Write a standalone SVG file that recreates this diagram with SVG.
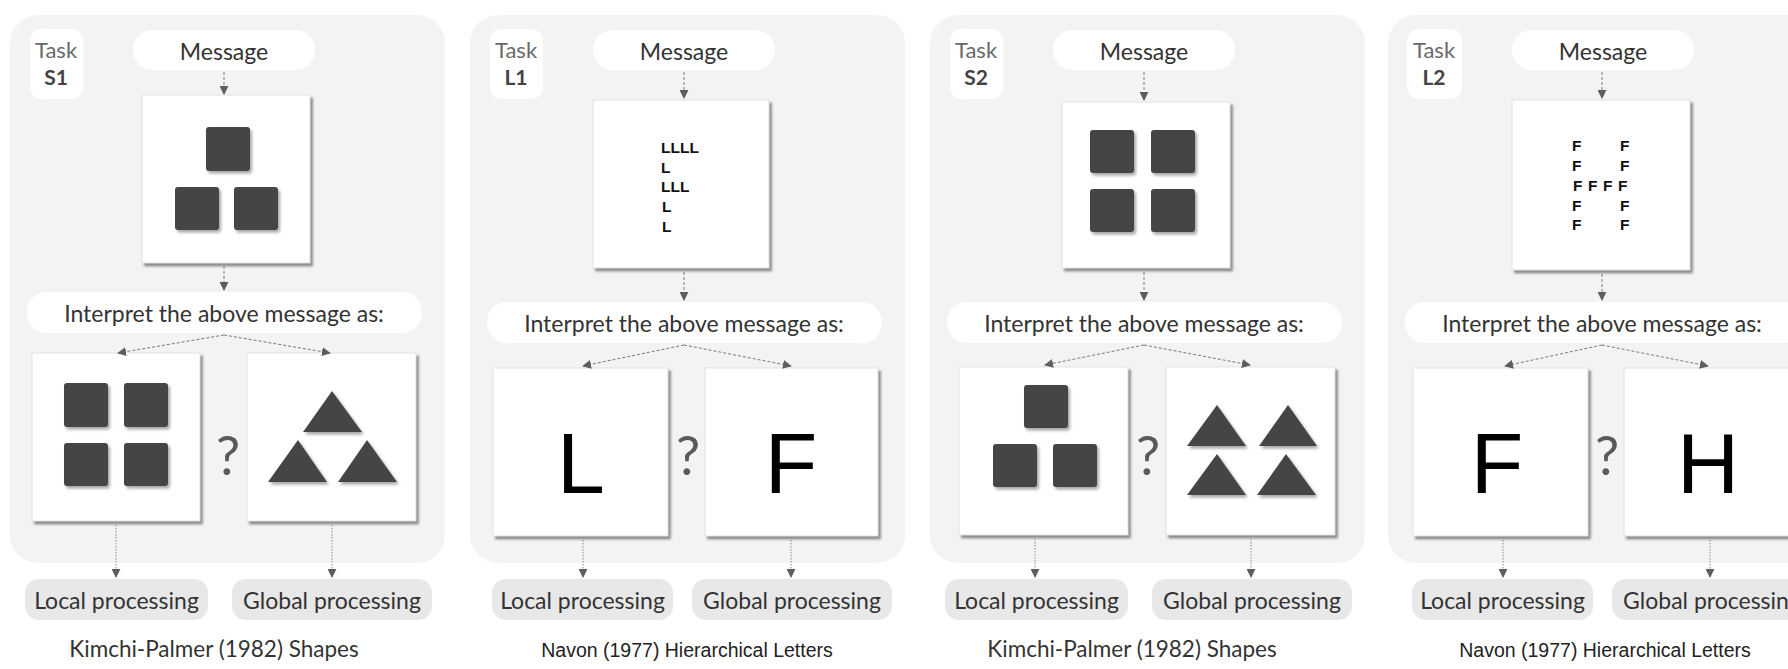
<svg xmlns="http://www.w3.org/2000/svg" width="1788" height="669" viewBox="0 0 1788 669">
  <defs>
    <style>
      .panel { fill: #f3f3f3; }
      .pill { fill: #ffffff; }
      .tag { fill: #ffffff; }
      .outpill { fill: #e8e8e8; }
      .card { fill: #ffffff; stroke: #dcdcdc; stroke-width: 0.8; filter: url(#cardShadow); }
      .shape { fill: #454545; filter: url(#shapeShadow); }
      .sans { font-family: Lato, "Open Sans", "Liberation Sans", sans-serif; fill: #333333; }
      .helv { font-family: "Liberation Sans", Arial, sans-serif; fill: #222222; }
      .task { font-size: 22px; fill: #6a6a6a; text-anchor: middle; }
      .taskid { font-size: 21px; font-weight: bold; fill: #444444; text-anchor: middle; }
      .lbl { font-size: 23px; text-anchor: middle; }
      .cap { font-size: 22.5px; text-anchor: middle; }
      .capH { font-size: 19.5px; text-anchor: middle; }
      .q { font-family: Lato, "Open Sans", sans-serif; font-size: 54px; fill: #5a5a5a; text-anchor: middle; }
      .big { font-family: "Liberation Sans", Arial, sans-serif; font-size: 86px; fill: #000000; text-anchor: middle; }
      .small { font-family: "Liberation Sans", Arial, sans-serif; font-size: 15.5px; font-weight: bold; fill: #111111; }
      .dash { fill: none; stroke: #7a7a7a; stroke-width: 1; stroke-dasharray: 3 2; marker-end: url(#head); }
      .dot { fill: none; stroke: #8a8a8a; stroke-width: 1; stroke-dasharray: 1.5 1.5; marker-end: url(#head); }
    </style>
    <filter id="cardShadow" x="-10%" y="-10%" width="130%" height="130%">
      <feDropShadow dx="2.5" dy="3" stdDeviation="0.8" flood-color="#7a7a7a" flood-opacity="0.85"/>
    </filter>
    <filter id="shapeShadow" x="-20%" y="-20%" width="150%" height="150%">
      <feDropShadow dx="2" dy="2.5" stdDeviation="1.5" flood-color="#000000" flood-opacity="0.35"/>
    </filter>
    <marker id="head" viewBox="0 0 10 10" refX="9" refY="5" markerWidth="9" markerHeight="9" markerUnits="userSpaceOnUse" orient="auto">
      <path d="M0,0 L10,5 L0,10 Z" fill="#5e5e5e"/>
    </marker>
  </defs>

  <!-- Task S1: Kimchi-Palmer shapes, squares forming a triangle -->
  <g id="task-s1">
    <rect class="panel" x="10" y="15" width="435" height="548" rx="28"/>
    <g id="s1-label">
      <rect class="tag" x="30" y="29" width="53" height="70" rx="12"/>
      <text class="sans task" x="56" y="58">Task</text>
      <text class="sans taskid" x="56" y="85">S1</text>
    </g>
    <g id="s1-message">
      <rect class="pill" x="133" y="30" width="182" height="40" rx="20"/>
      <text class="sans lbl" x="224" y="60">Message</text>
    </g>
    <g id="s1-stimulus">
      <rect class="card" x="142" y="95" width="168" height="168"/>
      <rect class="shape" x="206" y="127" width="44" height="44" rx="3"/>
      <rect class="shape" x="175" y="187" width="44" height="43" rx="3"/>
      <rect class="shape" x="234" y="187" width="44" height="43" rx="3"/>
    </g>
    <g id="s1-question">
      <rect class="pill" x="27" y="292" width="395" height="41" rx="20"/>
      <text class="sans lbl" x="224" y="322">Interpret the above message as:</text>
    </g>
    <g id="s1-local">
      <rect class="card" x="32" y="353" width="168" height="168"/>
      <rect class="shape" x="64" y="383" width="44" height="44" rx="3"/>
      <rect class="shape" x="124" y="383" width="44" height="44" rx="3"/>
      <rect class="shape" x="64" y="443" width="44" height="43" rx="3"/>
      <rect class="shape" x="124" y="443" width="44" height="43" rx="3"/>
    </g>
    <text class="q" x="228" y="475">?</text>
    <g id="s1-global">
      <rect class="card" x="247" y="353" width="169" height="168"/>
      <polygon class="shape" points="332,391 362,432 303,432"/>
      <polygon class="shape" points="298,440 327,482 268,482"/>
      <polygon class="shape" points="367,440 397,482 338,482"/>
    </g>
    <g id="s1-local-out">
      <rect class="outpill" x="25" y="579" width="183" height="41" rx="14"/>
      <text class="sans lbl" x="116.5" y="609">Local processing</text>
    </g>
    <g id="s1-global-out">
      <rect class="outpill" x="232" y="579" width="200" height="41" rx="14"/>
      <text class="sans lbl" x="332" y="609">Global processing</text>
    </g>
    <text class="sans cap" x="214" y="657">Kimchi-Palmer (1982) Shapes</text>
  </g>

  <!-- Task L1: Navon letters, an F made of L -->
  <g id="task-l1">
    <rect class="panel" x="470" y="15" width="435" height="548" rx="28"/>
    <g id="l1-label">
      <rect class="tag" x="490" y="29" width="53" height="70" rx="12"/>
      <text class="sans task" x="516" y="58">Task</text>
      <text class="sans taskid" x="516" y="85">L1</text>
    </g>
    <g id="l1-message">
      <rect class="pill" x="593" y="30" width="182" height="40" rx="20"/>
      <text class="sans lbl" x="684" y="60">Message</text>
    </g>
    <g id="l1-stimulus">
      <rect class="card" x="593" y="100" width="176" height="168"/>
      <text class="small" x="661" y="153">LLLL</text>
      <text class="small" x="661" y="173">L</text>
      <text class="small" x="661" y="192">LLL</text>
      <text class="small" x="662" y="212">L</text>
      <text class="small" x="662" y="232">L</text>
    </g>
    <g id="l1-question">
      <rect class="pill" x="487" y="302" width="395" height="41" rx="20"/>
      <text class="sans lbl" x="684" y="332">Interpret the above message as:</text>
    </g>
    <g id="l1-local">
      <rect class="card" x="493" y="368" width="175" height="168"/>
      <text class="big" x="581" y="493">L</text>
    </g>
    <text class="q" x="688" y="475">?</text>
    <g id="l1-global">
      <rect class="card" x="705" y="368" width="173" height="168"/>
      <text class="big" x="791" y="493">F</text>
    </g>
    <g id="l1-local-out">
      <rect class="outpill" x="492" y="579" width="181" height="41" rx="14"/>
      <text class="sans lbl" x="582.5" y="609">Local processing</text>
    </g>
    <g id="l1-global-out">
      <rect class="outpill" x="692" y="579" width="200" height="41" rx="14"/>
      <text class="sans lbl" x="792" y="609">Global processing</text>
    </g>
    <text class="helv capH" x="687" y="657">Navon (1977) Hierarchical Letters</text>
  </g>

  <!-- Task S2: Kimchi-Palmer shapes, squares forming a square -->
  <g id="task-s2">
    <rect class="panel" x="930" y="15" width="435" height="548" rx="28"/>
    <g id="s2-label">
      <rect class="tag" x="950" y="29" width="53" height="70" rx="12"/>
      <text class="sans task" x="976" y="58">Task</text>
      <text class="sans taskid" x="976" y="85">S2</text>
    </g>
    <g id="s2-message">
      <rect class="pill" x="1053" y="30" width="182" height="40" rx="20"/>
      <text class="sans lbl" x="1144" y="60">Message</text>
    </g>
    <g id="s2-stimulus">
      <rect class="card" x="1062" y="102" width="168" height="166"/>
      <rect class="shape" x="1090" y="130" width="44" height="43" rx="3"/>
      <rect class="shape" x="1151" y="130" width="44" height="43" rx="3"/>
      <rect class="shape" x="1090" y="189" width="44" height="43" rx="3"/>
      <rect class="shape" x="1151" y="189" width="44" height="43" rx="3"/>
    </g>
    <g id="s2-question">
      <rect class="pill" x="947" y="302" width="395" height="41" rx="20"/>
      <text class="sans lbl" x="1144" y="332">Interpret the above message as:</text>
    </g>
    <g id="s2-local">
      <rect class="card" x="959" y="367" width="169" height="168"/>
      <rect class="shape" x="1024" y="385" width="44" height="43" rx="3"/>
      <rect class="shape" x="993" y="444" width="44" height="43" rx="3"/>
      <rect class="shape" x="1053" y="444" width="44" height="43" rx="3"/>
    </g>
    <text class="q" x="1148" y="475">?</text>
    <g id="s2-global">
      <rect class="card" x="1166" y="367" width="169" height="168"/>
      <polygon class="shape" points="1217,405 1246,446 1187,446"/>
      <polygon class="shape" points="1288,405 1317,446 1259,446"/>
      <polygon class="shape" points="1217,454 1246,495 1187,495"/>
      <polygon class="shape" points="1286,454 1316,495 1257,495"/>
    </g>
    <g id="s2-local-out">
      <rect class="outpill" x="945" y="579" width="183" height="41" rx="14"/>
      <text class="sans lbl" x="1036.5" y="609">Local processing</text>
    </g>
    <g id="s2-global-out">
      <rect class="outpill" x="1152" y="579" width="200" height="41" rx="14"/>
      <text class="sans lbl" x="1252" y="609">Global processing</text>
    </g>
    <text class="sans cap" x="1132" y="657">Kimchi-Palmer (1982) Shapes</text>
  </g>

  <!-- Task L2: Navon letters, an H made of F -->
  <g id="task-l2">
    <rect class="panel" x="1388" y="15" width="435" height="548" rx="28"/>
    <g id="l2-label">
      <rect class="tag" x="1407" y="29" width="55" height="70" rx="12"/>
      <text class="sans task" x="1434" y="58">Task</text>
      <text class="sans taskid" x="1434" y="85">L2</text>
    </g>
    <g id="l2-message">
      <rect class="pill" x="1512" y="30" width="182" height="40" rx="20"/>
      <text class="sans lbl" x="1603" y="60">Message</text>
    </g>
    <g id="l2-stimulus">
      <rect class="card" x="1512" y="100" width="178" height="170"/>
      <text class="small" x="1572" y="151">F</text>
      <text class="small" x="1620" y="151">F</text>
      <text class="small" x="1572" y="171">F</text>
      <text class="small" x="1620" y="171">F</text>
      <text class="small" x="1573" y="191">F</text>
      <text class="small" x="1588" y="191">F</text>
      <text class="small" x="1603" y="191">F</text>
      <text class="small" x="1618" y="191">F</text>
      <text class="small" x="1572" y="211">F</text>
      <text class="small" x="1620" y="211">F</text>
      <text class="small" x="1572" y="230">F</text>
      <text class="small" x="1620" y="230">F</text>
    </g>
    <g id="l2-question">
      <rect class="pill" x="1405" y="302" width="400" height="41" rx="20"/>
      <text class="sans lbl" x="1602" y="332">Interpret the above message as:</text>
    </g>
    <g id="l2-local">
      <rect class="card" x="1413" y="368" width="175" height="168"/>
      <text class="big" x="1497" y="493">F</text>
    </g>
    <text class="q" x="1607" y="475">?</text>
    <g id="l2-global">
      <rect class="card" x="1624" y="368" width="175" height="168"/>
      <text class="big" x="1708" y="493">H</text>
    </g>
    <g id="l2-local-out">
      <rect class="outpill" x="1412" y="579" width="181" height="41" rx="14"/>
      <text class="sans lbl" x="1502.5" y="609">Local processing</text>
    </g>
    <g id="l2-global-out">
      <rect class="outpill" x="1612" y="579" width="200" height="41" rx="14"/>
      <text class="sans lbl" x="1712" y="609">Global processing</text>
    </g>
    <text class="helv capH" x="1605" y="657">Navon (1977) Hierarchical Letters</text>
  </g>

  <!-- Connectors -->
  <g id="connectors">
    <!-- S1 -->
    <path class="dash" d="M224,72 L224,94"/>
    <path class="dash" d="M224,266 L224,290"/>
    <path class="dash" d="M224,335 L118,353"/>
    <path class="dash" d="M224,335 L330,353"/>
    <path class="dot" d="M116,525 L116,577"/>
    <path class="dot" d="M332,525 L332,577"/>
    <!-- L1 -->
    <path class="dash" d="M684,72 L684,98"/>
    <path class="dash" d="M684,272 L684,300"/>
    <path class="dash" d="M684,345 L583,366"/>
    <path class="dash" d="M684,345 L791,366"/>
    <path class="dot" d="M583,540 L583,577"/>
    <path class="dot" d="M791,540 L791,577"/>
    <!-- S2 -->
    <path class="dash" d="M1144,72 L1144,100"/>
    <path class="dash" d="M1144,272 L1144,300"/>
    <path class="dash" d="M1144,345 L1045,365"/>
    <path class="dash" d="M1144,345 L1250,365"/>
    <path class="dot" d="M1035,539 L1035,577"/>
    <path class="dot" d="M1251,539 L1251,577"/>
    <!-- L2 -->
    <path class="dash" d="M1602,72 L1602,98"/>
    <path class="dash" d="M1602,274 L1602,300"/>
    <path class="dash" d="M1602,345 L1505,366"/>
    <path class="dash" d="M1602,345 L1708,366"/>
    <path class="dot" d="M1503,540 L1503,577"/>
    <path class="dot" d="M1710,540 L1710,577"/>
  </g>
</svg>
